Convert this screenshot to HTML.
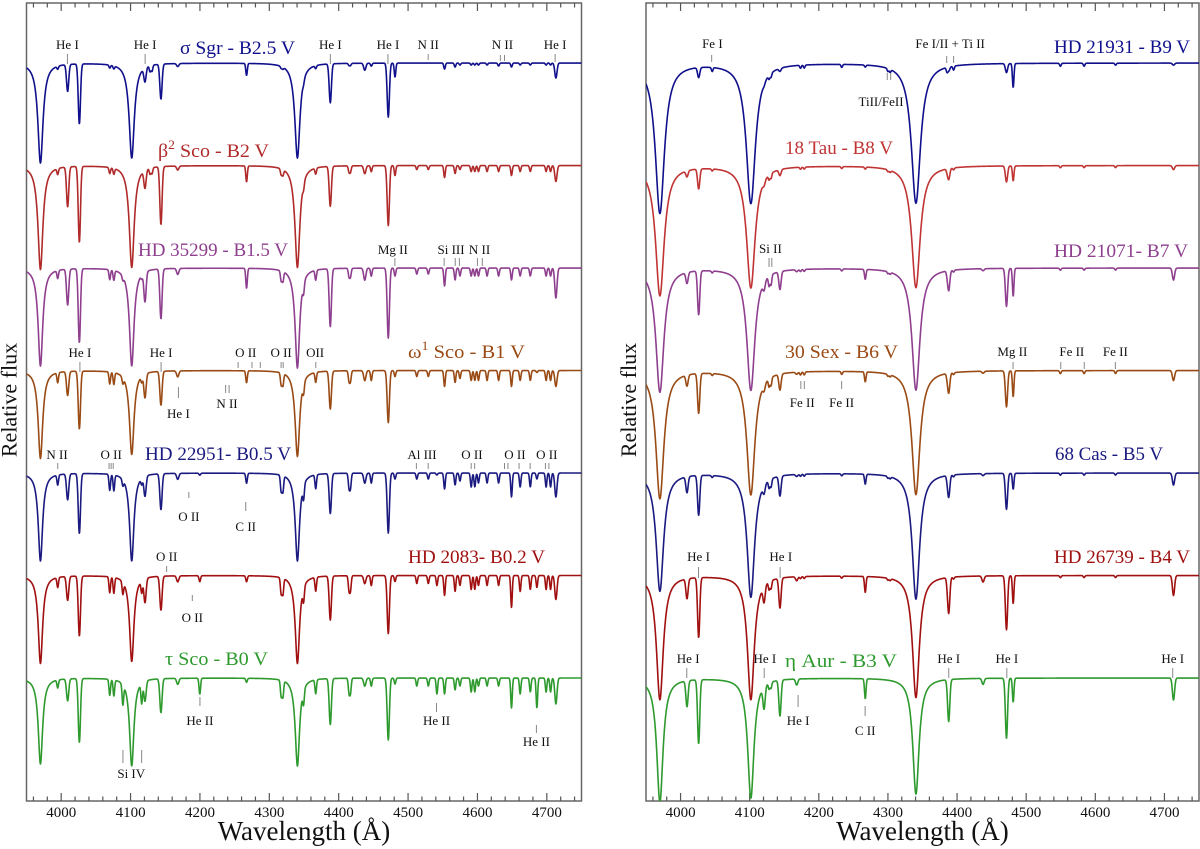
<!DOCTYPE html>
<html><head><meta charset="utf-8"><style>
html,body{margin:0;padding:0;background:#fff;}
svg{display:block;font-family:"Liberation Serif","DejaVu Serif",serif;}
</style></head><body>
<svg id="chart" width="1200" height="849" viewBox="0 0 1200 849" xmlns="http://www.w3.org/2000/svg">
<defs>
<clipPath id="clipL"><rect x="26.5" y="3" width="555" height="798"/></clipPath>
<clipPath id="clipR"><rect x="646" y="3" width="553" height="798"/></clipPath>
</defs>
<g id="gL"></g>
<g id="gR"></g>
</svg>
<script>
// ---- data ----
const lineWl = [3970.1,4101.7,4340.5,4009.3,4026.2,4120.8,4143.8,4387.9,4471.5,4713.1,4437.6,4168.0,4481.2,4267.2,4128.1,4130.9,4552.6,4567.8,4574.8,4088.9,4116.1,4199.8,4541.6,4685.7,4070.0,4075.9,4649.1,4661.6,4414.9,4417.0,4317.1,4319.6,4349.4,4366.9,4591.0,4596.2,4676.2,4699.0,4705.4,4630.5,4601.5,4613.9,3995.0,4447.0,4512.6,4529.2,4045.8,4233.2,4173.5,4178.9,4549.5,4583.8,4629.3,4300.0,4303.2,4385.4,4395.0];
// depth (% of continuum) per line, same order as lineWl
const depthSigmaSgr = [50,47.5,47.5,13.5,30,7,17.5,19.5,27,7.5,3.5,1.5,7,6,3,3,3,2,1,0,0,0,0,0,1.5,1.5,2,1,1,1,1,1,1.5,1.5,1,1,1,1,1,1.5,1,1,1.5,1.5,0,0,0,0,0,0,0,0,0,0,0,0,0];
const depthBeta2Sco = [52,51,51,20,38,9,29,20,30,8,4,2,5,8,3,3,6,4,2,0,0,0,0,0,3,3,5,3,3,3,3,3,3,3,3,3,3,3,3,3,3,3,3,3,2,2,0,0,0,0,0,0,0,0,0,0,0];
const depthHD35299 = [49,49,50,18,37,15,25,29,35,15,6,3,4,10,0,0,9,6,4,2,2,0,0,0,5,5,6,4,4,4,5,5,5,5,4,4,4,4,4,4,4,4,4,4,3,3,0,0,0,0,0,0,0,0,0,0,0];
const depthOmega1Sco = [44,42,43,12,29,12,17,19,26,8,5,3,3,6,0,0,8,6,4,3,3,0,0,1,6,6,8,5,5,5,6,6,5,5,5,5,5,5,5,5,5,5,5,5,3,3,0,0,0,0,0,0,0,0,0,0,0];
const depthHD22951 = [44,44,44,13,30,10,18,20,30,12,5,3,3,5,0,0,8,6,4,3,3,1,1,3,8,8,12,7,7,7,8,8,7,7,7,7,7,7,7,5,5,5,5,5,3,3,0,0,0,0,0,0,0,0,0,0,0];
const depthHD2083 = [44,43,44,12,30,12,17,22,29,12,4,3,3,3,0,0,10,8,5,6,6,3,5,6,8,8,16,8,7,7,8,8,7,7,7,7,7,7,7,5,5,5,5,5,4,4,0,0,0,0,0,0,0,0,0,0,0];
const depthTauSco = [43,44,44,11,32,10,17,23,31,13,4,3,3,2,0,0,8,6,4,10,10,8,8,15,8,8,15,8,7,7,8,8,7,7,7,7,7,7,7,4,4,4,4,4,4,4,0,0,0,0,0,0,0,0,0,0,0];
const depthHD21931 = [75,70,70,0,5,1,1.5,2,4.5,1,0,0,12,1,2,2,0,0,0,0,0,0,0,0,0,0,0,0,0,0,0,0,0,0,0,0,0,0,0,0,0,0,0,0,0,0,2,1.5,1.5,1.5,1.5,1.5,1,1.5,1.5,2,2];
const depthTau18 = [65,61,61,3,10,2,3,5.5,8,2,0,0,7.5,1,2.5,2.5,0,0,0,0,0,0,0,0,0,0,0,0,0,0,0,0,0,0,0,0,0,0,0,0,0,0,0,0,0,0,1,1,1,1,1,1,1,1,1,1,1];
const depthHD21071 = [62,61,61,5.5,22,4,9,10,19,6,1,1,14,5,5,5,0,0,0,0,0,0,0,0,0,0,0,0,0,0,0,0,0,0,0,0,0,0,0,0,0,0,0,0,0,0,1,1,1,1,1,1,1,1,1,1,1];
const depthSex30 = [64,62,62,5.5,20,3,8,10,18,5,1,1,13,5,4,4,0,0,0,0,0,0,0,0,0,0,0,0,0,0,0,0,0,0,0,0,0,0,0,0,0,0,0,0,0,0,1,1.5,1.5,1.5,1.5,1.5,1.5,1,1,1,1];
const depthCas68 = [59,62,63,8,20,4,10,11,18,6,1,1,8,5,4,4,0,0,0,0,0,0,0,0,0,0,0,0,0,0,0,0,0,0,0,0,0,0,0,0,0,0,0,0,0,0,1,1,1,1,1,1,1,1,1,1,1];
const depthHD26739 = [62,62,61,10,30,8,15,18,27,10,3,2,14,8,4,4,0,0,0,0,0,0,0,0,0,0,0,0,0,0,0,0,0,0,0,0,0,0,0,0,0,0,0,0,0,0,0,1,1,1,1,1,1,1,1,1,1];
const depthEtaAur = [62,60,58,13,32,11,18,21,30,11,3,3,12,10,3,3,0,0,0,0,0,0,0,0,0,0,0,0,0,0,0,0,0,0,0,0,0,0,0,0,0,0,0,0,0,0,0,0,0,0,0,0,0,0,0,0,0];
const balmerWidthLeft = [4.5,4.3,4,4,3.8,3.8,3.8];
const balmerWidthRight = [8,7.5,7,7,6.5,6,5.5];
const leftNames = ["σ  Sgr - B2.5 V","β2 Sco - B2 V","HD 35299 - B1.5 V","ω1 Sco - B1 V","HD 22951- B0.5 V","HD 2083- B0.2 V","τ  Sco - B0 V"];
const rightNames = ["HD 21931 - B9 V","18 Tau - B8 V","HD 21071- B7 V","30 Sex - B6 V","68 Cas - B5 V","HD 26739 - B4 V","η Aur - B3 V"];
const leftDepths = [depthSigmaSgr,depthBeta2Sco,depthHD35299,depthOmega1Sco,depthHD22951,depthHD2083,depthTauSco];
const rightDepths = [depthHD21931,depthTau18,depthHD21071,depthSex30,depthCas68,depthHD26739,depthEtaAur];
const xTicks = [4000,4100,4200,4300,4400,4500,4600,4700];
const wlMin = 3950, wlMax = 4750;

// ---- style ----
const leftColors = ["#10108c","#b02a2a","#8e3f8e","#9a4a14","#1a1a80","#a01010","#2e9a2e"];
const rightColors = ["#10108c","#c03434","#8e3f8e","#9a4a14","#1a1a80","#a01010","#2e9a2e"];
const NS = "http://www.w3.org/2000/svg";
const panels = [
  {g: document.getElementById('gL'), x0: 26.5, x1: 581.5, clip: 'clipL', side: 'left'},
  {g: document.getElementById('gR'), x0: 646, x1: 1199, clip: 'clipR', side: 'right'}
];
const yTop = 3, yBot = 801;
function xScale(p, wl){ return p.x0 + (wl - wlMin) / (wlMax - wlMin) * (p.x1 - p.x0); }
function yScale(v){ return 678 - (v - 1) * 200; }
function el(tag, attrs, parent){ const e = document.createElementNS(NS, tag); for (const k in attrs) e.setAttribute(k, attrs[k]); parent.appendChild(e); return e; }

function fluxAt(wl, depths, bw){
  let f = 1;
  for (let i = 0; i < lineWl.length; i++){
    const d = depths[i] / 100; if (!d) continue;
    const dl = wl - lineWl[i];
    if (i < 3){
      f -= d / (1 + (dl/bw)*(dl/bw));
    } else {
      const s = (i >= 3 && i <= 11) ? 1.6 : 1.1;
      if (Math.abs(dl) > 8) continue;
      f -= d * Math.exp(-0.5 * dl*dl/(s*s));
    }
  }
  return f;
}

panels.forEach((p, pi) => {
  const g = p.g;
  const frame = el('rect', {x: p.x0, y: yTop, width: p.x1 - p.x0, height: yBot - yTop, fill: 'none', stroke: '#666', 'stroke-width': 1.5}, g);
  
  
  for (let w = 3960; w <= 4740; w += 20){
    const x = xScale(p, w), major = (w % 100 === 0), L = major ? 8 : 4.5;
    const t1 = el('line', {x1: x, x2: x, y1: yBot, y2: yBot - L, stroke: '#555', 'stroke-width': 1.2}, g);
    
    
    const t2 = el('line', {x1: x, x2: x, y1: yTop, y2: yTop + L, stroke: '#555', 'stroke-width': 1.2}, g);
    
    
  }
  xTicks.forEach(w => {
    const t = el('text', {x: xScale(p, w), y: 817, 'text-anchor': 'middle', 'font-size': 15, fill: '#111'}, g);
    t.textContent = w;
    
    
  });
  const xl = el('text', {x: (p.x0 + p.x1)/2, y: 840, 'text-anchor': 'middle', 'font-size': 27, fill: '#111'}, g);
  xl.textContent = 'Wavelength (Å)';
  
  
  const yx = p.x0 - 10;
  const yl = el('text', {x: yx, y: 400, 'text-anchor': 'middle', 'font-size': 22, fill: '#111', transform: `rotate(-90 ${yx} 400)`}, g);
  yl.textContent = 'Relative flux';
  
  

  const depthsList = pi === 0 ? leftDepths : rightDepths;
  const widths = pi === 0 ? balmerWidthLeft : balmerWidthRight;
  const colors = pi === 0 ? leftColors : rightColors;
  const sg = el('g', {'clip-path': `url(#${p.clip})`}, g);
  depthsList.forEach((dep, i) => {
    const off = (6 - i) * 0.5125;
    let d = '';
    for (let w = wlMin; w <= wlMax; w += 0.5){
      const x = xScale(p, w), y = yScale(fluxAt(w, dep, widths[i]) + off);
      d += (d ? 'L' : 'M') + x.toFixed(2) + ' ' + y.toFixed(2);
    }
    const path = el('path', {d: d, fill: 'none', stroke: colors[i], 'stroke-width': 1.6, 'stroke-linejoin': 'round'}, sg);
    
    
  });
});

const starLabelPos = [[0,0,180,54,115],[0,1,158,157,111],[0,2,138,256,150],[0,3,408,358,117],[0,4,145,460,146],[0,5,408,563,137],[0,6,165,665,103],
  [1,0,1054,53,136],[1,1,785,154,108],[1,2,1054,257,134],[1,3,785,358,113],[1,4,1055,460,108],[1,5,1054,563,136],[1,6,785,667,112]];
starLabelPos.forEach(([pi, i, x, y, w]) => {
  const g = panels[pi].g;
  const name = pi === 0 ? leftNames[i] : rightNames[i];
  const col = pi === 0 ? leftColors[i] : rightColors[i];
  const t = el('text', {x: x, y: y, 'font-size': 19, fill: col, textLength: w, lengthAdjust: 'spacingAndGlyphs', 'xml:space': 'preserve'}, g);
  if (name.startsWith('β2') || name.startsWith('ω1')){
    const a = el('tspan', {}, t); a.textContent = name[0];
    const b = el('tspan', {dy: -8, 'font-size': 13}, t); b.textContent = name[1];
    const c = el('tspan', {dy: 8}, t); c.textContent = '  ' + name.slice(3);
  } else {
    t.textContent = name;
  }
  
  
});

const annotations = [
 [0,'He I',4009,49,[4009],54,64],[0,'He I',4121,49,[4121],54,64],[0,'He I',4388,49,[4388],54,64],[0,'He I',4471,49,[4471],54,64],
 [0,'N II',4529,49,[4529],54,60],[0,'N II',4636,49,[4633,4639],55,61],[0,'He I',4712,49,[4712],54,62],
 [0,'Mg II',4478,254,[4481],258,266],[0,'Si III',4562,254,[4552,4568,4574],258,266],[0,'N II',4603,254,[4600,4607],258,266],
 [0,'He I',4027,357,[4027],362,372],[0,'He I',4144,357,[4144],362,372],[0,'O II',4266,357,[4255,4275,4287],362,368],[0,'O II',4317,357,[4317,4320],362,368],[0,'OII',4366,357,[4367],362,368],
 [0,'He I',4169,418,[4169],387,398],[0,'N II',4239,408,[4237,4242],385,393],
 [0,'N II',3994,459,[3995],463,469],[0,'O II',4072,459,[4069,4072,4075],463,469],[0,'Al III',4520,459,[4512,4529],463,469],[0,'O II',4592,459,[4591,4596],463,469],[0,'O II',4654,459,[4639,4644,4660,4676],463,469],[0,'O II',4700,459,[4698,4703],463,469],
 [0,'O II',4184,521,[4184],492,498],[0,'C II',4266,531,[4266],502,511],
 [0,'O II',4152,561,[4152],566,572],[0,'O II',4189,622,[4189],595,601],
 [0,'He II',4200,725,[4200],697,706],[0,'He II',4541,725,[4541],703,712],[0,'He II',4685,746,[4685],725,733],[0,'Si IV',4101,778,[4089,4116],750,763],
 [1,'Fe I',4046,48,[4045],55,62],[1,'Fe I/II + Ti II',4390,48,[4385,4395],56,63],[1,'TiII/FeII',4290,106,[4299,4304],73,80],
 [1,'Si II',4130,253,[4128,4132],258,267],
 [1,'Mg II',4480,356,[4481],362,369],[1,'Fe II',4566,356,[4550,4584],362,369],[1,'Fe II',4629,356,[4629],362,369],
 [1,'Fe II',4176,407,[4174,4179],381,389],[1,'Fe II',4233,407,[4233],381,389],
 [1,'He I',4026,561,[4026],567,578],[1,'He I',4145,561,[4144],567,578],
 [1,'He I',4011,663,[4009],668,678],[1,'He I',4122,663,[4121],668,678],[1,'He I',4388,663,[4388],668,678],[1,'He I',4472,663,[4472],668,678],[1,'He I',4712,663,[4712],668,678],
 [1,'He I',4170,725,[4170],695,707],[1,'C II',4267,735,[4267],706,716]
];
annotations.forEach(([pi, txt, tw, ty, ticks, y1, y2]) => {
  const p = panels[pi];
  const t = el('text', {x: xScale(p, tw), y: ty, 'text-anchor': 'middle', 'font-size': 13, fill: '#111'}, p.g);
  t.textContent = txt;
  
  
  ticks.forEach(w => {
    const l = el('line', {x1: xScale(p, w), x2: xScale(p, w), y1: y1, y2: y2, stroke: '#888', 'stroke-width': 1}, p.g);
    
    
  });
});
</script>
</body></html>
